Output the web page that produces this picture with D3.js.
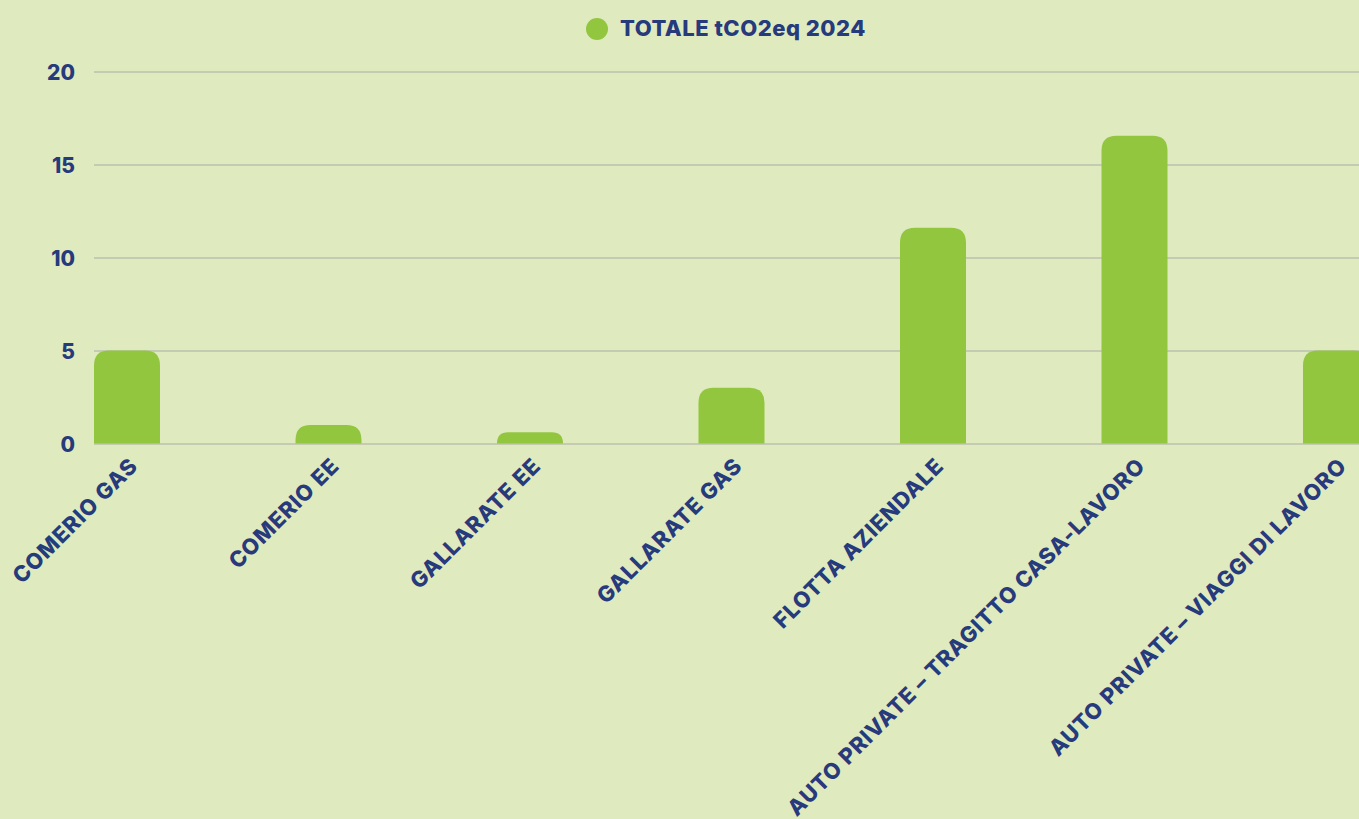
<!DOCTYPE html>
<html><head><meta charset="utf-8">
<script src="https://cdn.jsdelivr.net/npm/d3@7"></script>
<style>
html,body{margin:0;padding:0;background:#dfebbf;overflow:hidden}
text{font-family:Inter,"Open Sans",sans-serif;font-weight:800;fill:#263a7c}
</style></head><body>
<svg id="c" width="1359" height="819"></svg>
<script>
const categories = ["COMERIO GAS","COMERIO EE","GALLARATE EE","GALLARATE GAS","FLOTTA AZIENDALE","AUTO PRIVATE - TRAGITTO CASA-LAVORO","AUTO PRIVATE - VIAGGI DI LAVORO"];
const values = [5.0, 1.0, 0.6, 3.0, 11.6, 16.55, 5.0];
const seriesName = "TOTALE tCO2eq 2024";
const yTicks = [0,5,10,15,20];

(function(){
const W = 1359, H = 819;
const svg = d3.select("#c");
svg.append("rect").attr("width",W).attr("height",H).attr("fill","#dfebbf");
const mLeft = 94, mTop = 71.5, mBottom = 443.5;
const x = d3.scaleBand().domain(categories).range([mLeft, mLeft + 201.5*(7-0.6725)]).paddingInner(0.6725).paddingOuter(0).align(0);
const y = d3.scaleLinear().domain([0,20]).range([mBottom, mTop]);

const yAxis = d3.axisLeft(y).tickValues(yTicks).tickSize(-(W-mLeft)).tickPadding(20);
const ga = svg.append("g").attr("transform",`translate(${mLeft},0)`).call(yAxis);
ga.select(".domain").remove();
ga.selectAll(".tick line").attr("stroke","#a9aca6").attr("stroke-width",1.2);
ga.selectAll(".tick text").attr("font-size",21).attr("x",-19).attr("dy","0.36em").style("fill","#263a7c");

const r = 15;
function barPath(x0, w, y0, y1){
  const rr = Math.min(r, (y1-y0), w/2);
  return `M${x0},${y1} V${y0+rr} Q${x0},${y0} ${x0+rr},${y0} H${x0+w-rr} Q${x0+w},${y0} ${x0+w},${y0+rr} V${y1} Z`;
}
svg.append("g").selectAll("path").data(categories).join("path")
  .attr("d",(c,i)=>barPath(x(c), x.bandwidth(), y(values[i]), y(0)))
  .attr("fill","#92c63f");

const xAxis = d3.axisBottom(x).tickSize(0).tickPadding(0);
const gx = svg.append("g").attr("transform",`translate(0,${mBottom})`).call(xAxis);
gx.select(".domain").remove();
gx.selectAll(".tick").attr("transform", d=>`translate(${x(d)+x.bandwidth()/2},0)`);
gx.selectAll(".tick text")
  .attr("font-size",22).attr("letter-spacing",0.8).attr("text-anchor","end").attr("dy",0)
  .attr("transform","translate(12,24) rotate(-45)").attr("y",0).attr("x",0)
  .style("fill","#263a7c")
  .text(d=>d.replace(/ - /g," – "));

const lg = svg.append("g");
lg.append("circle").attr("cx",597).attr("cy",29).attr("r",11).attr("fill","#92c63f");
lg.append("text").attr("x",620).attr("y",36).attr("font-size",22).attr("letter-spacing",0.5).text(seriesName);
})();
</script></body></html>
